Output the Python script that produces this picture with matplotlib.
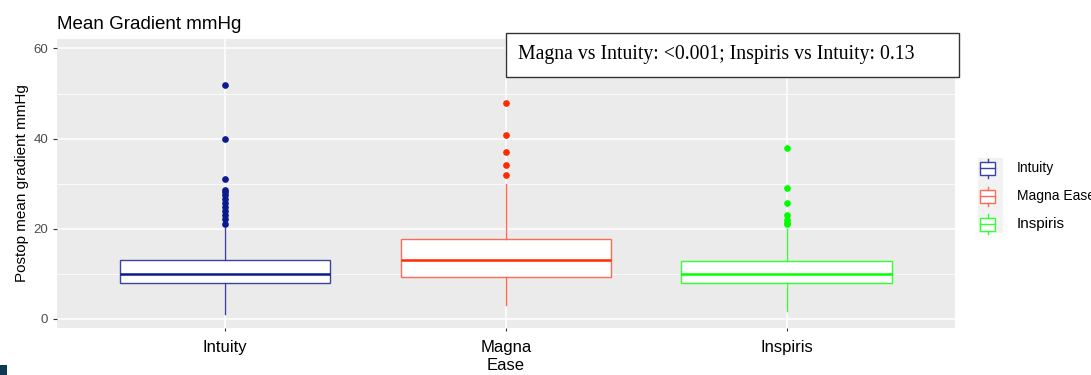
import matplotlib
matplotlib.use("Agg")
import matplotlib.pyplot as plt
from matplotlib.patches import Rectangle
from matplotlib.lines import Line2D

plt.rcParams["font.family"] = ["Liberation Sans", "DejaVu Sans"]

# ---- data ----
categories = ["Intuity", "Magna Ease", "Inspiris"]
tick_labels = ["Intuity", "Magna\nEase", "Inspiris"]
q1 = [7.9, 9.4, 7.9]
median = [10.0, 13.1, 10.0]
q3 = [13.1, 17.8, 12.9]
whisker_low = [1.1, 3.0, 1.8]
whisker_high = [20.1, 29.9, 19.9]
outliers_intuity = [52.0, 39.9, 31.0, 28.5, 28.1, 27.4, 26.6, 25.8, 24.9, 24.0, 23.1, 22.1, 21.1]
outliers_magna = [47.9, 40.8, 37.0, 34.1, 31.9]
outliers_inspiris = [37.9, 29.0, 25.8, 23.0, 22.0, 21.3, 21.0]
outliers = [outliers_intuity, outliers_magna, outliers_inspiris]
colors = ["#0a1a8a", "#ff2a00", "#00ff00"]
box_edge = ["#3a44a0", "#ff6a55", "#33ff33"]
annotation = "Magna vs Intuity: <0.001; Inspiris vs Intuity: 0.13"

W, H = 1091, 375
fig = plt.figure(figsize=(W / 100, H / 100), dpi=100)
ax = fig.add_axes([56.7 / W, 1 - 327.7 / H, (955 - 56.7) / W, (327.7 - 39) / H])
ax.set_facecolor("#ebebeb")
for s in ax.spines.values():
    s.set_visible(False)

positions = [1, 2, 3]
ax.set_xlim(0.4, 3.6)
ax.set_ylim(-1.93, 62.1)

# grid
ax.set_yticks([0, 20, 40, 60])
ax.set_yticks([10, 30, 50], minor=True)
ax.set_xticks(positions)
ax.grid(True, which="major", color="white", linewidth=1.1, zorder=0)
ax.grid(True, which="minor", axis="y", color="white", linewidth=0.55, zorder=0)
ax.set_axisbelow(True)

for i, pos in enumerate(positions):
    stats = [dict(med=median[i], q1=q1[i], q3=q3[i], whislo=whisker_low[i],
                  whishi=whisker_high[i], fliers=outliers[i], label=categories[i])]
    ax.bxp(stats, positions=[pos], widths=0.75, patch_artist=True,
           showcaps=False,
           boxprops=dict(facecolor="white", edgecolor=box_edge[i], linewidth=1.0),
           medianprops=dict(color=colors[i], linewidth=1.8),
           whiskerprops=dict(color=box_edge[i], linewidth=1.0),
           flierprops=dict(marker="o", markersize=3.8, markerfacecolor=colors[i],
                           markeredgecolor=colors[i], linestyle="none"),
           zorder=3)

ax.set_xticks(positions)
ax.set_xticklabels(tick_labels, fontsize=12, color="black", linespacing=1.25)
ax.tick_params(axis="x", length=2.5, color="#333333", pad=6)
ax.tick_params(axis="y", which="major", length=3, color="#333333", labelsize=9.5,
               labelcolor="#4d4d4d", pad=3)
ax.tick_params(axis="y", which="minor", length=0)
ax.set_ylabel("Postop mean gradient mmHg", fontsize=11, color="black", labelpad=3)
ax.set_title("Mean Gradient mmHg", loc="left", fontsize=13.5, color="black", pad=7)

# legend (drawn as figure artists, pixel layout of the reference)
tf = fig.transFigure
fig.patches.append(Rectangle((978 / W, 1 - 233 / H), 25 / W, 75 / H, transform=tf,
                             facecolor="#f2f2f2", edgecolor="none"))
label_sizes = [10, 10, 11]
for i, (lab, ec) in enumerate(zip(categories, box_edge)):
    cy = 168 + 28 * i
    fig.patches.append(Rectangle((980 / W, 1 - (cy + 6.5) / H), 15 / W, 13 / H, transform=tf,
                                 facecolor="white", edgecolor=ec, linewidth=1.0))
    fig.lines.append(Line2D([980 / W, 995 / W], [1 - cy / H, 1 - cy / H], transform=tf,
                            color=ec, linewidth=1.0))
    fig.lines.append(Line2D([987.5 / W, 987.5 / W], [1 - (cy - 6.5) / H, 1 - (cy - 9.5) / H],
                            transform=tf, color=ec, linewidth=1.0))
    fig.lines.append(Line2D([987.5 / W, 987.5 / W], [1 - (cy + 6.5) / H, 1 - (cy + 9.5) / H],
                            transform=tf, color=ec, linewidth=1.0))
    fig.text(1017 / W, 1 - cy / H, lab, fontsize=label_sizes[i], va="center", ha="left")

# annotation box
fig.patches.append(Rectangle((506 / W, 1 - 76.5 / H), (959 - 506) / W, (76.5 - 33) / H,
                             transform=tf, facecolor="white",
                             edgecolor="#333333", linewidth=1.0, zorder=5))
fig.text(518 / W, 1 - 54.5 / H, annotation, family="Liberation Serif", fontsize=14.2,
         va="center", ha="left", zorder=6)

# screenshot artifacts
fig.patches.append(Rectangle((0, 0), 7 / W, 10 / H, transform=tf,
                             facecolor="#0d3a52", edgecolor="none"))

fig.savefig("out.png", dpi=100)
